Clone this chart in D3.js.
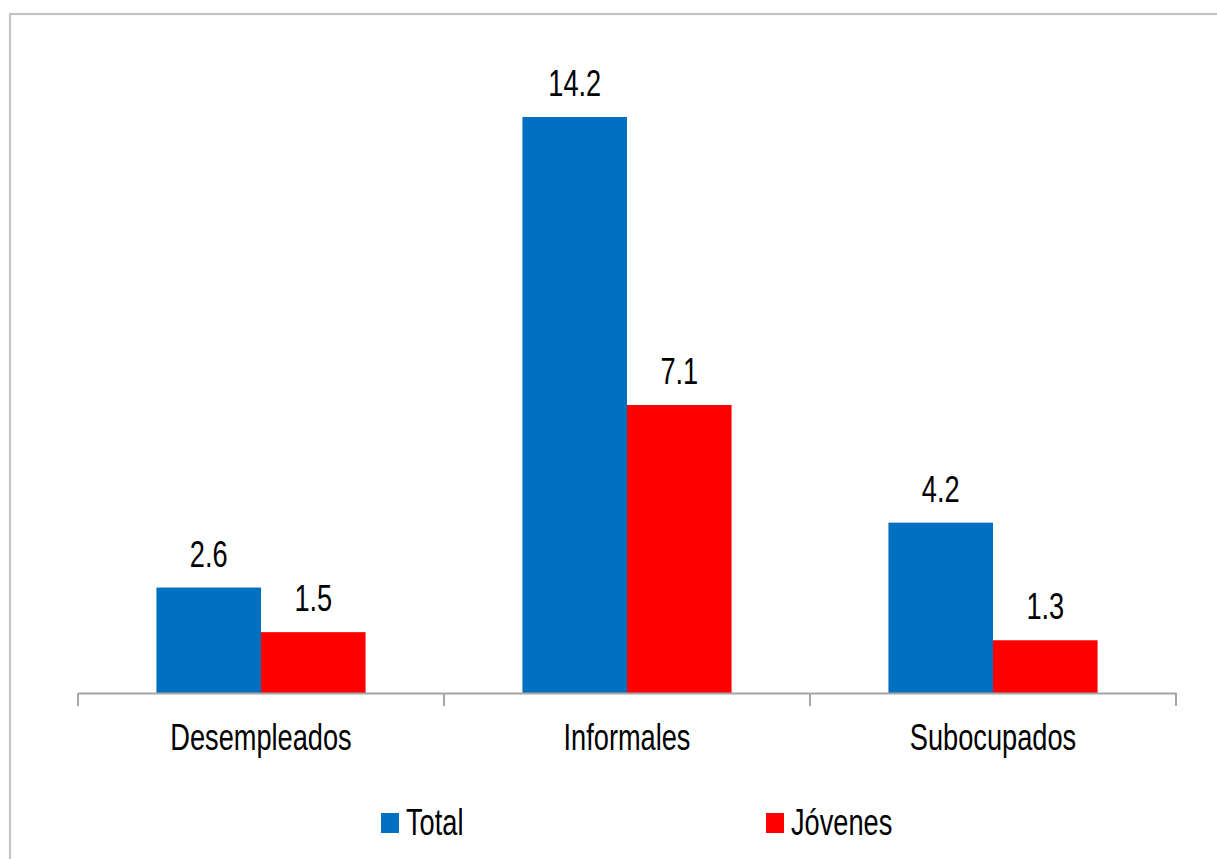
<!DOCTYPE html>
<html>
<head>
<meta charset="utf-8">
<script src="https://cdn.jsdelivr.net/npm/d3@7"></script>
<style>
  html, body { margin: 0; padding: 0; background: #fff; }
  svg { display: block; }
  text { font-family: "Liberation Sans", Arial, sans-serif; fill: #000; }
</style>
</head>
<body>
<svg id="chart" width="1217" height="859"></svg>
<script>
// Categories and series
const categories = ["Desempleados", "Informales", "Subocupados"];
const seriesNames = ["Total", "Jóvenes"];
const totalValues = [2.6, 14.2, 4.2];
const jovenesValues = [1.5, 7.1, 1.3];
const seriesColors = ["#0070C0", "#FF0000"];

const W = 1217, H = 859;
const svg = d3.select("#chart");

// Condensed look for all labels
const FONT = 37, SX = 0.735;

// Chart frame
svg.append("rect")
  .attr("x", 10).attr("y", 14)
  .attr("width", W + 50).attr("height", H + 50)
  .attr("fill", "none")
  .attr("stroke", "#c4c4c4")
  .attr("stroke-width", 2.2);

const plot = { left: 78, right: 1176, bottom: 693 };

const x0 = d3.scaleBand()
  .domain(categories)
  .range([plot.left, plot.right])
  .paddingInner(0).paddingOuter(0);

// bars take 2 units, gap takes 1.5 units within each band
const groupW = x0.bandwidth() * 2 / 3.5;
const x1 = d3.scaleBand()
  .domain(seriesNames)
  .range([0, groupW])
  .padding(0);

const y = d3.scaleLinear().domain([0, 16]).range([plot.bottom, 44]);

const rows = categories.map((c, i) => ({
  cat: c,
  vals: [
    { s: seriesNames[0], v: totalValues[i], color: seriesColors[0] },
    { s: seriesNames[1], v: jovenesValues[i], color: seriesColors[1] }
  ]
}));

const groups = svg.append("g").selectAll("g")
  .data(rows)
  .join("g")
  .attr("transform", d => `translate(${x0(d.cat) + (x0.bandwidth() - groupW) / 2},0)`);

groups.selectAll("rect")
  .data(d => d.vals)
  .join("rect")
  .attr("x", d => x1(d.s))
  .attr("width", x1.bandwidth())
  .attr("y", d => y(d.v))
  .attr("height", d => y(0) - y(d.v))
  .attr("fill", d => d.color);

groups.selectAll("text.val")
  .data(d => d.vals)
  .join("text")
  .attr("class", "val")
  .attr("text-anchor", "middle")
  .attr("font-size", FONT)
  .attr("transform", d => `translate(${x1(d.s) + x1.bandwidth() / 2},${y(d.v) - 21}) scale(${SX},1)`)
  .text(d => d.v.toFixed(1));

// Category axis
const axis = d3.axisBottom(x0).tickSize(0).tickPadding(0);
const gx = svg.append("g").attr("transform", `translate(0,${plot.bottom})`).call(axis);
gx.select(".domain").attr("stroke", "#a6a6a6").attr("stroke-width", 2);
gx.selectAll(".tick text")
  .attr("font-size", FONT)
  .attr("fill", "#000")
  .attr("font-family", "Liberation Sans, Arial, sans-serif")
  .attr("dy", 0)
  .attr("y", 0)
  .attr("transform", `translate(0,57) scale(${SX},1)`);

// Tick marks at band boundaries
const bounds = categories.map(c => x0(c)).concat([plot.right]);
svg.append("g").selectAll("line")
  .data(bounds)
  .join("line")
  .attr("x1", d => d).attr("x2", d => d)
  .attr("y1", plot.bottom).attr("y2", plot.bottom + 13)
  .attr("stroke", "#a6a6a6")
  .attr("stroke-width", 2);

// Legend
const legendX = [381, 766];
const legend = svg.append("g").selectAll("g")
  .data(seriesNames)
  .join("g")
  .attr("transform", (d, i) => `translate(${legendX[i]},0)`);
legend.append("rect")
  .attr("x", 0).attr("y", 813)
  .attr("width", 18).attr("height", 20)
  .attr("fill", (d, i) => seriesColors[i]);
legend.append("text")
  .attr("font-size", FONT)
  .attr("transform", `translate(25,835) scale(${SX},1)`)
  .text(d => d);
</script>
</body>
</html>
